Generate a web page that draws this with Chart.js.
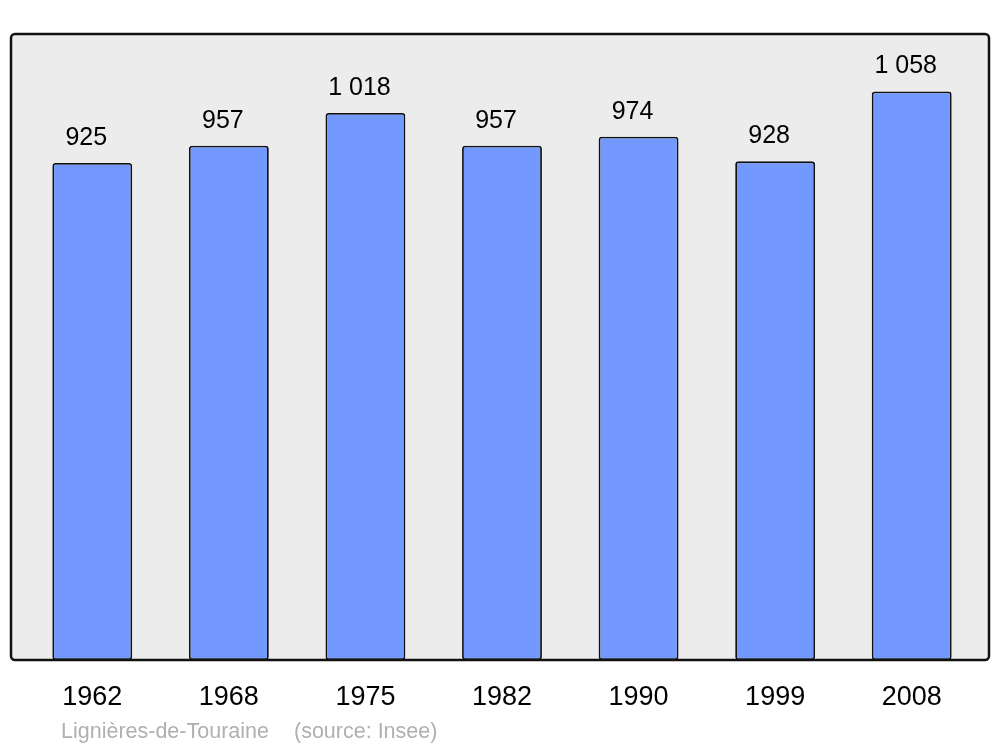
<!DOCTYPE html>
<html>
<head>
<meta charset="utf-8">
<script src="https://cdn.jsdelivr.net/npm/chart.js@4/dist/chart.umd.min.js"></script>
<style>
html,body{margin:0;padding:0;background:#fff;}
#wrap{width:1000px;height:747px;}
</style>
</head>
<body>
<div id="wrap"><canvas id="c" width="1000" height="747"></canvas></div>
<script>
const years = ["1962","1968","1975","1982","1990","1999","2008"];
const population = [925, 957, 1018, 957, 974, 928, 1058];
const footerPlace = "Lignières-de-Touraine";
const footerSource = "(source: Insee)";

const FONT = "'Liberation Sans', Arial, sans-serif";
function fmt(v){ return String(v).replace(/\B(?=(\d{3})+(?!\d))/g, " "); }

const framePlugin = {
  id: 'frame',
  beforeDatasetsDraw(chart){
    const {ctx, chartArea:a} = chart;
    ctx.save();
    ctx.beginPath();
    ctx.roundRect(11, a.top, 978, a.bottom - a.top, 4);
    ctx.fillStyle = '#ececec';
    ctx.fill();
    ctx.restore();
  },
  afterDatasetsDraw(chart){
    const {ctx, chartArea:a} = chart;
    ctx.save();
    ctx.beginPath();
    ctx.roundRect(11, a.top, 978, a.bottom - a.top, 4);
    ctx.lineWidth = 2.5;
    ctx.strokeStyle = '#111';
    ctx.stroke();
    // value labels
    const meta = chart.getDatasetMeta(0);
    ctx.fillStyle = '#000';
    ctx.font = "25px " + FONT;
    ctx.textAlign = 'center';
    ctx.textBaseline = 'alphabetic';
    meta.data.forEach((bar, i) => {
      ctx.fillText(fmt(population[i]), bar.x - 6, bar.y - 18);
    });
    // footer
    ctx.fillStyle = '#b0b0b0';
    ctx.font = "21.5px " + FONT;
    ctx.textAlign = 'left';
    ctx.fillText(footerPlace, 61, 737.5);
    ctx.fillText(footerSource, 294, 737.5);
    ctx.restore();
  }
};

new Chart(document.getElementById('c'), {
  type: 'bar',
  data: {
    labels: years,
    datasets: [{
      data: population,
      backgroundColor: '#7399ff',
      borderColor: '#111',
      borderWidth: 1.8,
      borderRadius: 3,
      borderSkipped: false,
      barPercentage: 0.585,
      categoryPercentage: 1
    }]
  },
  options: {
    responsive: false,
    animation: false,
    devicePixelRatio: 1,
    layout: { padding: { left: 24, right: 20, top: 34, bottom: 0 } },
    plugins: { legend: { display: false }, tooltip: { enabled: false } },
    scales: {
      x: {
        grid: { display: false, drawTicks: false },
        border: { display: false },
        ticks: { color: '#000', font: { family: FONT, size: 27 }, padding: 21, maxRotation: 0 },
        afterFit(scale){ scale.height = 87; }
      },
      y: {
        display: false,
        min: 0,
        max: 1165
      }
    }
  },
  plugins: [framePlugin]
});
</script>
</body>
</html>
